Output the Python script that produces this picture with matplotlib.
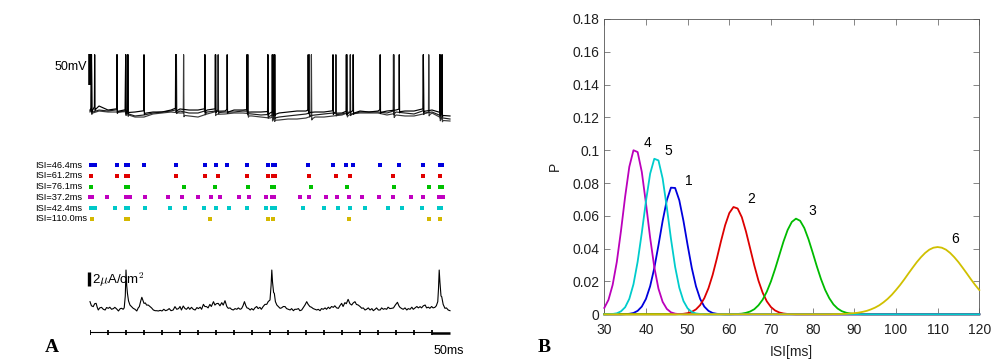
import numpy as np
import matplotlib
matplotlib.use('Agg')
import matplotlib.pyplot as plt

plt.rcParams['font.family'] = ['Liberation Sans', 'DejaVu Sans']
plt.rcParams['mathtext.fontset'] = 'cm'

# ---------------- Panel A data ----------------
# spike times (ms) of the six neurons (raster)
SPIKES_1 = [4, 13, 75, 99, 105, 150, 238, 319, 349, 381, 436, 494, 508, 513, 606, 675, 712, 731, 806, 859, 926, 972, 978]
SPIKES_2 = [4, 75, 99, 105, 240, 319, 356, 437, 494, 508, 513, 609, 683, 723, 843, 926, 972]
SPIKES_3 = [4, 99, 105, 260, 348, 439, 506, 512, 615, 714, 844, 941, 972, 978]
SPIKES_4 = [1, 6, 46, 99, 105, 110, 153, 217, 256, 300, 337, 362, 415, 443, 490, 506, 512, 583, 609, 656,
            687, 720, 755, 802, 841, 893, 926, 969, 974, 980]
SPIKES_5 = [4, 15, 70, 99, 105, 154, 222, 264, 318, 351, 385, 435, 489, 506, 515, 591, 650, 689, 723, 765,
            829, 867, 922, 969, 974]
SPIKES_6 = [6, 99, 106, 334, 494, 507, 719, 943, 972]
RASTER_LABELS = ['ISI=46.4ms', 'ISI=61.2ms', 'ISI=76.1ms', 'ISI=37.2ms', 'ISI=42.4ms', 'ISI=110.0ms']
RASTER_COLORS = ['#0000dd', '#e00000', '#00c000', '#c000c0', '#00c8c8', '#d4b800']

# membrane potential (mV): sub-threshold level of three traces every 25 ms
BASE_T = list(range(0, 1001, 25))
BASE_V1 = [-60.2, -53.7, -60.2, -60.2, -61.8, -63.4, -63.4, -63.4, -63.4, -60.2, -58.5, -60.2, -60.2, -60.2,
           -60.2, -61.8, -60.2, -60.2, -63.4, -63.4, -65.0, -65.0, -63.4, -61.8, -61.8, -63.4, -63.4, -63.4,
           -65.0, -63.4, -61.8, -63.4, -61.8, -61.8, -60.2, -61.8, -61.8, -60.2, -60.2, -66.6, -69.8]
BASE_V2 = [-61.8, -60.2, -61.8, -61.8, -63.4, -69.8, -68.2, -65.0, -63.4, -61.8, -61.8, -65.0, -65.0, -63.4,
           -61.8, -63.4, -63.4, -61.8, -66.6, -68.2, -69.8, -71.5, -69.8, -68.2, -66.6, -68.2, -66.6, -65.0,
           -66.6, -65.0, -63.4, -63.4, -63.4, -65.0, -63.4, -65.0, -66.6, -63.4, -63.4, -71.5, -74.7]
BASE_V3 = [-63.4, -61.8, -63.4, -63.4, -65.0, -71.5, -71.5, -66.6, -65.0, -63.4, -65.0, -69.8, -71.5, -66.6,
           -65.0, -66.6, -65.0, -65.0, -69.8, -71.5, -73.1, -76.3, -74.7, -74.7, -73.1, -71.5, -71.5, -69.8,
           -68.2, -66.6, -65.0, -65.0, -65.0, -68.2, -68.2, -69.8, -69.8, -66.6, -65.0, -74.7, -77.9]
V_PEAK = 29.0

# synaptic current (uA/cm^2, relative to baseline)
CURRENT_T = [0, 4, 9, 13, 17, 20, 23, 27, 32, 37, 42, 46, 51, 55, 60, 65, 69, 74, 79, 84, 88, 92, 95, 98, 100,
             102, 104, 107, 111, 115, 120, 125, 130, 134, 137, 141, 144, 147, 150, 154, 157, 162, 167, 171, 176,
             181, 185, 190, 195, 200, 205, 210, 215, 220, 225, 231, 236, 241, 246, 250, 254, 259, 264, 268, 273,
             277, 282, 287, 292, 297, 301, 306, 310, 315, 319, 324, 328, 333, 337, 343, 347, 351, 356, 361, 366,
             370, 375, 380, 384, 389, 393, 398, 403, 408, 412, 417, 421, 425, 429, 433, 436, 440, 445, 449, 454,
             458, 463, 467, 472, 476, 481, 486, 491, 495, 500, 503, 505, 507, 510, 512, 515, 519, 523, 528, 532,
             537, 542, 546, 551, 556, 560, 565, 569, 574, 579, 583, 588, 592, 597, 602, 606, 611, 615, 620, 625,
             630, 634, 639, 643, 648, 653, 657, 662, 666, 671, 676, 680, 685, 690, 694, 699, 703, 708, 712, 717,
             722, 727, 731, 736, 740, 745, 750, 755, 759, 764, 768, 773, 778, 783, 787, 792, 796, 801, 806, 810,
             815, 819, 824, 828, 833, 838, 843, 848, 854, 858, 861, 866, 870, 875, 880, 884, 889, 894, 898, 903,
             908, 912, 917, 921, 926, 931, 935, 940, 944, 949, 953, 958, 962, 966, 968, 970, 972, 975, 977, 981,
             986, 990, 995, 1000]
CURRENT_V = [1.19, 0.6, 0.48, 0.9, 0.95, 0.4, 0.0, 0.3, 0.38, 0.1, 0.0, 0.35, 0.24, 0.4, 0.1, 0.2, 0.38, 0.15,
             -0.14, 0.2, 0.24, 0.1, 0.3, 2.0, 5.71, 3.5, 2.38, 1.3, 0.71, 0.5, 0.24, 0.1, -0.14, 0.3, 0.48, 1.3,
             1.81, 1.4, 0.95, 1.0, 0.71, 0.7, 0.48, 0.3, 0.0, -0.1, -0.1, -0.14, -0.05, -0.14, 0.1, -0.1, 0.0,
             0.2, -0.1, 0.0, 0.48, 0.1, 0.2, 0.5, 0.0, 0.57, 0.2, 0.1, 0.4, 0.1, 0.38, 0.1, 0.0, 0.35, 0.2, 0.4,
             0.1, 0.81, 0.5, 0.48, 0.3, 0.8, 0.5, 1.19, 0.7, 0.9, 0.95, 0.6, 1.05, 0.7, 1.33, 0.5, 0.24, 0.3,
             0.1, 0.0, 0.2, 0.1, 0.3, 0.1, 0.2, 0.6, 1.19, 0.6, 0.3, 0.24, 0.0, 0.2, 0.0, 0.3, 0.5, 0.2, 0.38,
             0.1, 0.5, 0.8, 0.81, 1.2, 1.43, 3.5, 5.71, 4.0, 2.5, 2.38, 1.2, 0.71, 0.5, 0.24, 0.3, 0.5, 0.48, 0.2,
             0.1, 0.0, 0.2, -0.1, 0.1, 0.1, 0.2, -0.1, 0.0, 0.3, 0.7, 1.19, 0.8, 0.48, 0.4, 0.2, 0.1, 0.0, 0.1,
             -0.1, 0.2, 0.1, 0.3, 0.1, 0.4, 0.2, 0.5, 0.38, 0.6, 0.3, 0.24, 0.6, 0.95, 0.5, 1.05, 0.9, 1.52, 0.9,
             0.71, 1.0, 1.19, 0.8, 0.71, 0.5, 0.24, 0.3, 0.0, 0.1, 0.3, 0.0, 0.2, -0.1, 0.1, 0.3, 0.0, 0.0, 0.3,
             0.1, 0.2, 0.1, 0.4, 0.2, 0.24, 0.3, 0.7, 1.10, 0.6, 0.38, 0.2, 0.1, 0.3, 0.0, 0.2, 0.1, 0.4, 0.1,
             0.3, 0.5, 0.3, 0.48, 0.3, 0.6, 0.71, 0.3, 0.4, 0.24, 0.5, 0.3, 0.38, 0.6, 1.19, 3.0, 5.71, 4.0, 2.0,
             1.9, 0.8, 0.24, 0.3, 0.0, -0.1]

# ---------------- Panel B data ----------------
ISI = list(range(30, 121))
CURVE_LABELS = ['1', '2', '3', '4', '5', '6']
CURVE_COLORS = ['#0000dd', '#dd0000', '#00bb00', '#bb00bb', '#00cccc', '#d0c000']
P1_START, P1 = 35, [0.0001, 0.0003, 0.0008, 0.0021, 0.0047, 0.0094, 0.0171, 0.0282, 0.0421, 0.0569, 0.0695,
                    0.0772, 0.0770, 0.0695, 0.0569, 0.0421, 0.0282, 0.0171, 0.0094, 0.0047, 0.0021, 0.0008,
                    0.0003, 0.0001]
P2_START, P2 = 48, [0.0001, 0.0003, 0.0007, 0.0015, 0.0030, 0.0056, 0.0098, 0.0159, 0.0240, 0.0339, 0.0445,
                    0.0543, 0.0617, 0.0654, 0.0645, 0.0592, 0.0505, 0.0402, 0.0298, 0.0205, 0.0132, 0.0079,
                    0.0044, 0.0023, 0.0011, 0.0005, 0.0002, 0.0001]
P3_START, P3 = 61, [0.0001, 0.0002, 0.0004, 0.0009, 0.0017, 0.0031, 0.0055, 0.0089, 0.0138, 0.0201, 0.0277,
                    0.0360, 0.0443, 0.0514, 0.0563, 0.0583, 0.0570, 0.0526, 0.0458, 0.0377, 0.0293, 0.0215,
                    0.0149, 0.0098, 0.0060, 0.0035, 0.0019, 0.0010, 0.0005, 0.0002, 0.0001]
P4_START, P4 = 30, [0.0039, 0.0088, 0.0179, 0.0319, 0.0508, 0.0717, 0.0899, 0.1000, 0.0989, 0.0868, 0.0676,
                    0.0467, 0.0287, 0.0156, 0.0076, 0.0033, 0.0012, 0.0004, 0.0001]
P5_START, P5 = 31, [0.0001, 0.0002, 0.0006, 0.0018, 0.0043, 0.0094, 0.0183, 0.0320, 0.0497, 0.0690, 0.0857,
                    0.0948, 0.0938, 0.0828, 0.0653, 0.0460, 0.0289, 0.0162, 0.0081, 0.0036, 0.0014, 0.0005,
                    0.0002]
P6_START, P6 = 85, [0.0001, 0.0001, 0.0002, 0.0003, 0.0005, 0.0007, 0.0010, 0.0015, 0.0021, 0.0030, 0.0041,
                    0.0055, 0.0073, 0.0094, 0.0119, 0.0148, 0.0179, 0.0213, 0.0249, 0.0284, 0.0318, 0.0348,
                    0.0374, 0.0394, 0.0406, 0.0410, 0.0406, 0.0394, 0.0374, 0.0348, 0.0318, 0.0284, 0.0249,
                    0.0213, 0.0179, 0.0148]
LABEL_POS = [(50.2, 0.0811), (65.2, 0.0701), (79.9, 0.0632), (40.4, 0.1046), (45.4, 0.0996), (114.2, 0.0461)]

# ---------------- figure ----------------
W, H = 1000, 364
fig = plt.figure(figsize=(W / 100, H / 100), dpi=100)


def rect(x0, y0, x1, y1):
    return [x0 / W, 1 - y1 / H, (x1 - x0) / W, (y1 - y0) / H]


def build_trace(bt, bv, spikes):
    bt = np.asarray(bt, float)
    bv = np.asarray(bv, float)
    keep = np.ones(len(bt), bool)
    for s in spikes:
        keep &= ~((bt > s - 1.5) & (bt < s + 4))
    ts = list(bt[keep])
    vs = list(bv[keep])
    for s in spikes:
        b = np.interp(s, bt, bv)
        ts += [s - 0.8, s, s + 1.0, s + 3.0]
        vs += [b + 2, V_PEAK, b - 4, b - 2]
    order = np.argsort(ts)
    return np.asarray(ts)[order], np.asarray(vs)[order]


# voltage traces
axV = fig.add_axes(rect(90, 40, 450, 130))
axV.set_xlim(0, 1000)
axV.set_ylim(-92.4, 52.7)
axV.axis('off')
for bvals, sp, col in [(BASE_V3, SPIKES_3, '#3a3a3a'), (BASE_V2, SPIKES_2, '#1e1e1e'),
                       (BASE_V1, SPIKES_1, '#000000')]:
    tt, vv = build_trace(BASE_T, bvals, sp)
    axV.plot(tt, vv, color=col, lw=0.85, clip_on=False)
axV.plot([1, 1], [-20, 30], color='black', lw=2.6, solid_capstyle='butt', clip_on=False)
axV.text(-9, 9, '50mV', ha='right', va='center', fontsize=9, clip_on=False)

# raster
axR = fig.add_axes(rect(90, 159.95, 450, 224.15))
axR.set_xlim(0, 1000)
axR.set_ylim(5.5, -0.5)
axR.axis('off')
for k, (sp, lab, col) in enumerate(zip([SPIKES_1, SPIKES_2, SPIKES_3, SPIKES_4, SPIKES_5, SPIKES_6],
                                       RASTER_LABELS, RASTER_COLORS)):
    axR.plot(sp, [k] * len(sp), ls='none', marker='s', ms=2.4, mew=0, color=col, clip_on=False)
    axR.text(-152, k, lab, ha='left', va='center', fontsize=6.7, clip_on=False)

# current
axI = fig.add_axes(rect(90, 255, 450, 325))
axI.set_xlim(0, 1000)
axI.set_ylim(-2.143, 7.857)
axI.axis('off')
axI.plot(CURRENT_T, CURRENT_V, color='black', lw=0.8, clip_on=False)
axI.plot([-3, -3], [3.4, 5.4], color='black', lw=2.4, solid_capstyle='butt', clip_on=False)
axI.text(6, 4.3, r'2$\mu$A/cm$^2$', ha='left', va='center', fontsize=9.5, clip_on=False)

# time axis
axT = fig.add_axes(rect(90, 325, 450, 340))
axT.set_xlim(0, 1000)
axT.set_ylim(-7.7, 7.3)
axT.axis('off')
axT.plot([0, 950], [0, 0], color='black', lw=0.8)
axT.vlines(np.arange(0, 951, 50), -2.2, 2.2, color='black', lw=1.3)
axT.plot([950, 1000], [-0.6, -0.6], color='black', lw=1.8, solid_capstyle='butt', clip_on=False)
axT.text(953, -18.2, '50ms', ha='left', va='center', fontsize=9, clip_on=False)

fig.text(52 / W, 1 - 347 / H, 'A', family='Liberation Serif', weight='bold', fontsize=14,
         ha='center', va='center')

# ---------------- Panel B ----------------
axB = fig.add_axes(rect(604.3, 19, 979.3, 314.3))
isi = np.asarray(ISI, float)
for (start, vals), col in zip([(P1_START, P1), (P2_START, P2), (P3_START, P3), (P4_START, P4),
                               (P5_START, P5), (P6_START, P6)], CURVE_COLORS):
    full = np.zeros(len(ISI))
    i0 = start - ISI[0]
    full[i0:i0 + len(vals)] = vals
    axB.plot(isi, full, color=col, lw=1.3, clip_on=False, zorder=3)
for lab, (x, y) in zip(CURVE_LABELS, LABEL_POS):
    axB.text(x, y, lab, ha='center', va='center', fontsize=10)
axB.set_xlim(30, 120)
axB.set_ylim(0, 0.18)
axB.set_xticks(range(30, 121, 10))
yt = [0, 0.02, 0.04, 0.06, 0.08, 0.1, 0.12, 0.14, 0.16, 0.18]
axB.set_yticks(yt)
axB.set_yticklabels([f'{v:g}' for v in yt])
axB.tick_params(direction='in', top=True, right=True, length=4, width=0.5, labelsize=10,
                color='#555555', labelcolor='#202020')
axB.tick_params(axis='x', pad=6)
for s in axB.spines.values():
    s.set_color('#555555')
    s.set_linewidth(0.6)
axB.set_xlabel('ISI[ms]', fontsize=10, color='#202020')
axB.set_ylabel('P', fontsize=10, color='#202020')
axB.xaxis.set_label_coords(0.5, -0.104)
axB.yaxis.set_label_coords(-0.114, 0.5)

fig.text(544 / W, 1 - 347 / H, 'B', family='Liberation Serif', weight='bold', fontsize=14,
         ha='center', va='center')

fig.savefig('out.png', dpi=100)
